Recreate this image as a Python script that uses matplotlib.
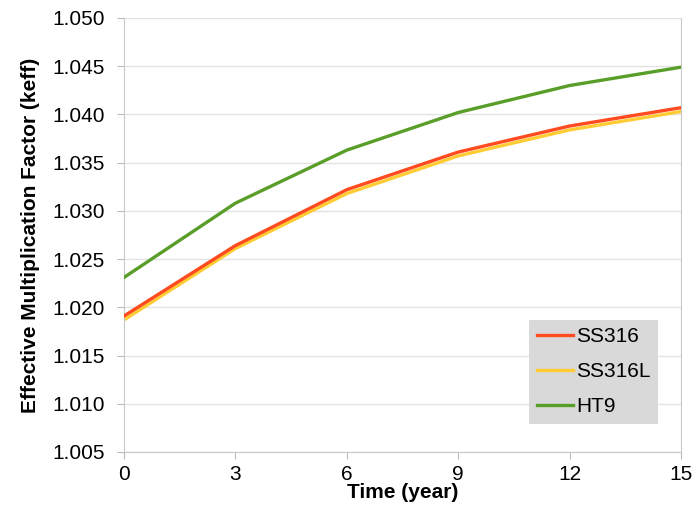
import matplotlib
matplotlib.use("Agg")
import matplotlib.pyplot as plt

plt.rcParams['font.family'] = ['Liberation Sans', 'DejaVu Sans']

years = [0, 3, 6, 9, 12, 15]
ss316 = [1.0191, 1.0264, 1.0322, 1.0361, 1.0388, 1.0407]
ss316l = [1.0187, 1.0261, 1.0318, 1.0357, 1.0384, 1.0403]
ht9 = [1.0231, 1.0308, 1.0363, 1.0402, 1.0430, 1.0449]
yticks = [1.005, 1.010, 1.015, 1.020, 1.025, 1.030, 1.035, 1.040, 1.045, 1.050]
xticks = [0, 3, 6, 9, 12, 15]

fig = plt.figure(figsize=(6.96, 5.17), dpi=100)
ax = fig.add_axes([124/696, 1 - 452/517, 557/696, 434/517])

ax.plot(years, ss316, color='#ff4b1f', lw=2.4, label='SS316', zorder=3)
ax.plot(years, ss316l, color='#ffcc33', lw=2.4, label='SS316L', zorder=2)
ax.plot(years, ht9, color='#5a9e2a', lw=2.4, label='HT9', zorder=3)

ax.set_xlim(0, 15)
ax.set_ylim(1.005, 1.050)
ax.set_xticks(xticks)
ax.set_yticks(yticks)
ax.set_yticklabels([f"{v:.3f}" for v in yticks])
ax.tick_params(labelsize=15, length=5, color='#bbbbbb')
ax.tick_params(axis='x', pad=4)
ax.tick_params(axis='y', pad=9)
ax.grid(axis='y', color='#e3e3e3', lw=1)
for s in ax.spines.values():
    s.set_color('#c8c8c8')
ax.spines['top'].set_visible(False)

ax.set_xlabel('Time (year)', fontsize=15, fontweight='bold', labelpad=0)
ax.set_ylabel('Effective Multiplication Factor (keff)', fontsize=15, fontweight='bold', labelpad=9)

leg = ax.legend(loc='lower right', bbox_to_anchor=(0.959, 0.065), borderaxespad=0,
                fontsize=15, frameon=True, fancybox=False, handlelength=1.75,
                borderpad=0.35, labelspacing=0.77, handletextpad=0.15)
leg.get_frame().set_facecolor('#d9d9d9')
leg.get_frame().set_edgecolor('none')
leg.get_frame().set_alpha(1)

fig.savefig('out.png', dpi=100)
